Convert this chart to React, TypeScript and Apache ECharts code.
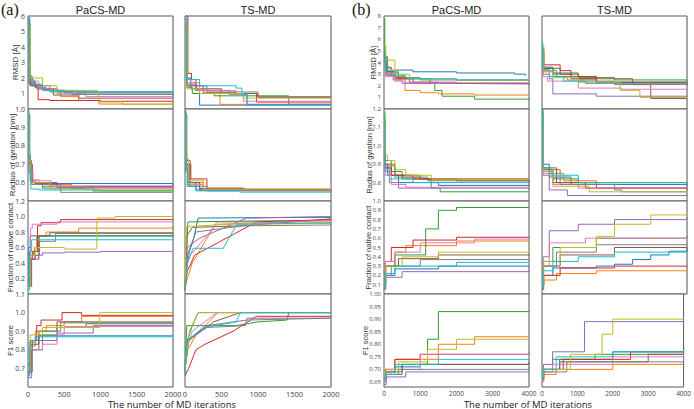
import { useEffect, useRef } from "react";
import * as echarts from "echarts";

const tab10 = ["#1f77b4", "#ff7f0e", "#2ca02c", "#d62728", "#9467bd", "#8c564b", "#e377c2", "#7f7f7f", "#bcbd22", "#17becf"];

const groupLabels = ["(a)", "(b)"];
const columnTitles = ["PaCS-MD", "TS-MD"];
const rowNames = ["RMSD [Å]", "Radius of gyration [nm]", "Fraction of native contact", "F1 score"];
const xTitle = "The number of MD iterations";

// (a) RMSD
const aRmsdPaCS = [
  [[0, 5.2], [15, 2.2], [40, 1.6], [150, 1.3], [400, 1.15], [800, 1.1], [2000, 1.08]],
  [[0, 5.6], [20, 1.9], [80, 1.5], [200, 1.2], [450, 0.8], [700, 0.55], [980, 0.32], [2000, 0.3]],
  [[0, 5.0], [15, 1.6], [50, 1.5], [120, 1.3], [300, 1.1], [600, 0.95], [2000, 0.9]],
  [[0, 4.8], [25, 1.8], [100, 1.4], [140, 0.6], [300, 0.55], [1000, 0.5], [2000, 0.47]],
  [[0, 5.8], [20, 1.7], [100, 1.4], [250, 1.2], [500, 1.05], [2000, 1.0]],
  [[0, 5.5], [30, 1.5], [200, 1.3], [350, 0.9], [700, 0.7], [2000, 0.66]],
  [[0, 5.3], [20, 1.8], [150, 1.3], [400, 1.0], [800, 0.8], [2000, 0.75]],
  [[0, 5.9], [25, 1.7], [100, 1.5], [300, 1.2], [700, 0.95], [2000, 0.86]],
  [[0, 5.4], [30, 2.0], [200, 1.5], [400, 1.2], [960, 1.1], [970, 0.45], [1300, 0.3], [2000, 0.19]],
  [[0, 6.0], [10, 2.1], [60, 1.6], [200, 1.2], [500, 1.1], [2000, 0.99]],
];
const aRmsdTS = [
  [[0, 5.5], [20, 2.0], [80, 1.3], [200, 0.25], [2000, 0.22]],
  [[0, 5.0], [30, 1.7], [150, 1.2], [480, 0.3], [2000, 0.28]],
  [[0, 5.2], [25, 1.4], [100, 1.0], [400, 0.85], [1420, 0.3], [2000, 0.28]],
  [[0, 6.0], [40, 2.3], [90, 1.9], [150, 1.3], [500, 1.0], [980, 0.45], [2000, 0.45]],
  [[0, 5.8], [30, 1.6], [150, 1.2], [600, 0.95], [850, 0.3], [2000, 0.3]],
  [[0, 5.5], [30, 1.5], [250, 1.05], [700, 1.0], [1000, 0.75], [2000, 0.75]],
  [[0, 5.7], [20, 1.7], [200, 1.2], [700, 1.0], [800, 0.5], [2000, 0.5]],
  [[0, 5.3], [25, 1.5], [300, 1.1], [1000, 0.8], [2000, 0.79]],
  [[0, 5.5], [30, 1.3], [200, 1.0], [800, 0.7], [2000, 0.64]],
  [[0, 6.0], [15, 1.9], [200, 1.5], [700, 1.35], [780, 0.9], [850, 0.25], [2000, 0.22]],
];
// (a) Radius of gyration
const aRgPaCS = [
  [[0, 0.98], [10, 0.75], [30, 0.61], [100, 0.595], [2000, 0.587]],
  [[0, 0.97], [15, 0.7], [40, 0.615], [150, 0.59], [600, 0.57], [2000, 0.565]],
  [[0, 0.99], [12, 0.68], [35, 0.6], [200, 0.57], [900, 0.555], [2000, 0.548]],
  [[0, 0.96], [20, 0.72], [50, 0.6], [300, 0.58], [2000, 0.575]],
  [[0, 0.95], [15, 0.65], [40, 0.6], [200, 0.58], [2000, 0.578]],
  [[0, 0.97], [25, 0.7], [60, 0.6], [400, 0.575], [2000, 0.572]],
  [[0, 0.94], [20, 0.66], [70, 0.61], [320, 0.58], [800, 0.572], [2000, 0.57]],
  [[0, 0.96], [18, 0.7], [45, 0.59], [450, 0.547], [2000, 0.545]],
  [[0, 0.98], [14, 0.72], [40, 0.6], [300, 0.565], [1000, 0.552], [2000, 0.542]],
  [[0, 0.99], [10, 0.67], [40, 0.565], [150, 0.56], [2000, 0.558]],
];
const aRgTS = [
  [[0, 0.99], [10, 0.7], [40, 0.6], [150, 0.56], [2000, 0.55]],
  [[0, 0.97], [15, 0.68], [60, 0.6], [250, 0.565], [2000, 0.558]],
  [[0, 0.98], [10, 0.66], [30, 0.58], [200, 0.56], [2000, 0.555]],
  [[0, 0.96], [20, 0.7], [80, 0.62], [300, 0.57], [800, 0.56], [2000, 0.556]],
  [[0, 0.95], [15, 0.67], [50, 0.6], [200, 0.56], [2000, 0.553]],
  [[0, 0.97], [25, 0.72], [70, 0.6], [200, 0.568], [820, 0.56], [2000, 0.558]],
  [[0, 0.94], [12, 0.69], [45, 0.59], [250, 0.56], [2000, 0.552]],
  [[0, 0.98], [18, 0.7], [60, 0.58], [300, 0.555], [2000, 0.55]],
  [[0, 0.99], [14, 0.73], [50, 0.61], [250, 0.565], [2000, 0.56]],
  [[0, 0.99], [10, 0.68], [35, 0.58], [150, 0.555], [750, 0.548], [2000, 0.545]],
];
// (a) Fraction of native contact
const aFncPaCS = [
  [[0, 0.1], [10, 0.6], [30, 0.75], [2000, 0.76]],
  [[0, 0.1], [30, 0.45], [90, 0.6], [120, 0.75], [250, 0.8], [700, 0.85], [2000, 0.87]],
  [[0, 0.1], [20, 0.5], [80, 0.55], [150, 0.75], [2000, 0.77]],
  [[0, 0.1], [20, 0.45], [60, 0.55], [130, 0.88], [180, 0.92], [450, 0.96], [2000, 0.96]],
  [[0, 0.1], [30, 0.45], [100, 0.5], [200, 0.53], [500, 0.54], [1000, 0.55], [2000, 0.55]],
  [[0, 0.1], [50, 0.45], [150, 0.75], [300, 0.79], [2000, 0.79]],
  [[0, 0.1], [15, 0.5], [35, 0.85], [60, 0.9], [400, 0.93], [2000, 0.93]],
  [[0, 0.1], [40, 0.5], [160, 0.68], [380, 0.78], [2000, 0.78]],
  [[0, 0.1], [30, 0.5], [100, 0.6], [500, 0.58], [950, 0.98], [1200, 1.0], [2000, 1.0]],
  [[0, 0.05], [20, 0.55], [50, 0.7], [2000, 0.7]],
];
const aFncTS = [
  [[0, 0.05], [20, 0.3], [60, 0.55], [115, 0.7], [180, 0.98], [2000, 0.99]],
  [[0, 0.05], [25, 0.18], [100, 0.4], [435, 0.93], [2000, 0.93]],
  [[0, 0.1], [20, 0.45], [40, 0.93], [700, 0.94], [2000, 0.95]],
  [[0, 0.05], [30, 0.3], [60, 0.35], [130, 0.5], [980, 0.93], [2000, 0.96]],
  [[0, 0.1], [30, 0.6], [200, 0.72], [845, 0.98], [2000, 1.0]],
  [[0, 0.1], [25, 0.75], [100, 0.86], [800, 0.88], [2000, 0.97]],
  [[0, 0.1], [40, 0.5], [110, 0.54], [435, 0.9], [2000, 0.95]],
  [[0, 0.05], [30, 0.5], [150, 0.8], [800, 0.88], [2000, 0.89]],
  [[0, 0.1], [20, 0.87], [600, 0.9], [2000, 0.91]],
  [[0, 0.05], [35, 0.4], [110, 0.59], [525, 0.59], [710, 0.9], [2000, 0.92]],
];
// (a) F1 score
const aF1PaCS = [
  [[0, 0.66], [20, 0.8], [60, 0.85], [150, 0.875], [2000, 0.875]],
  [[0, 0.7], [30, 0.82], [100, 0.9], [250, 0.93], [500, 0.95], [740, 0.98], [2000, 0.98]],
  [[0, 0.68], [40, 0.8], [150, 0.88], [400, 0.92], [800, 0.94], [2000, 0.945]],
  [[0, 0.72], [30, 0.85], [120, 0.93], [180, 0.96], [470, 1.0], [740, 0.985], [2000, 0.985]],
  [[0, 0.65], [50, 0.8], [200, 0.85], [400, 0.89], [900, 0.93], [2000, 0.93]],
  [[0, 0.7], [40, 0.83], [150, 0.9], [400, 0.95], [2000, 0.95]],
  [[0, 0.67], [30, 0.8], [200, 0.83], [400, 0.88], [500, 0.925], [2000, 0.925]],
  [[0, 0.68], [60, 0.85], [200, 0.9], [450, 0.945], [2000, 0.945]],
  [[0, 0.7], [30, 0.88], [200, 0.92], [990, 1.0], [2000, 1.0]],
  [[0, 0.66], [15, 0.84], [100, 0.87], [2000, 0.87]],
];
const aF1TS = [
  [[0, 0.68], [30, 0.85], [100, 0.93], [180, 1.0], [2000, 1.0]],
  [[0, 0.7], [40, 0.8], [150, 0.88], [450, 1.0], [2000, 1.0]],
  [[0, 0.72], [25, 0.93], [700, 0.93], [1000, 0.95], [1400, 0.96], [1420, 1.0], [2000, 1.0]],
  [[0, 0.66], [50, 0.7], [150, 0.8], [275, 0.83], [660, 0.9], [980, 0.98], [2000, 0.98]],
  [[0, 0.7], [30, 0.85], [300, 0.93], [850, 0.96], [2000, 0.97]],
  [[0, 0.7], [50, 0.85], [390, 0.95], [760, 1.0], [2000, 1.0]],
  [[0, 0.68], [20, 0.8], [100, 0.9], [440, 1.0], [2000, 1.0]],
  [[0, 0.69], [40, 0.85], [300, 0.92], [830, 0.93], [850, 0.97], [2000, 0.97]],
  [[0, 0.7], [60, 0.9], [180, 1.0], [2000, 1.0]],
  [[0, 0.67], [30, 0.85], [250, 0.92], [700, 0.95], [760, 1.0], [2000, 1.0]],
];
// (b) RMSD
const bRmsdPaCS = [
  [[0, 4.6], [30, 3.6], [200, 3.35], [800, 3.2], [2000, 3.1], [3600, 3.0], [3900, 2.85]],
  [[0, 5.0], [40, 3.5], [200, 2.8], [580, 1.6], [1000, 1.4], [1500, 1.3], [2500, 1.2], [4000, 1.18]],
  [[0, 7.8], [20, 4.5], [100, 3.2], [400, 2.6], [1270, 2.2], [1400, 1.6], [1600, 1.1], [2500, 0.85], [4000, 0.77]],
  [[0, 4.3], [60, 3.2], [300, 2.6], [800, 2.3], [1500, 2.2], [4000, 2.15]],
  [[0, 4.2], [40, 2.9], [250, 2.5], [500, 2.2], [2000, 2.15], [4000, 2.12]],
  [[0, 4.4], [50, 3.0], [300, 2.7], [700, 2.3], [2000, 2.2], [4000, 2.08]],
  [[0, 4.0], [40, 2.8], [300, 2.4], [600, 2.25], [4000, 2.2]],
  [[0, 4.5], [60, 3.1], [400, 2.7], [1000, 2.5], [4000, 2.45]],
  [[0, 5.5], [50, 4.2], [300, 3.0], [700, 2.6], [2000, 2.45], [4000, 2.35]],
  [[0, 4.8], [30, 3.3], [200, 2.9], [600, 2.6], [2000, 2.5], [4000, 2.4]],
];
const bRmsdTS = [
  [[0, 5.0], [30, 3.6], [300, 3.0], [800, 2.6], [1500, 2.3], [4000, 2.1]],
  [[0, 4.5], [40, 3.2], [300, 2.8], [700, 2.5], [1500, 2.3], [4000, 2.22]],
  [[0, 4.8], [40, 3.5], [300, 3.1], [1000, 2.7], [2000, 2.5], [4000, 2.42]],
  [[0, 5.2], [50, 3.8], [500, 3.3], [800, 2.8], [1500, 2.3], [4000, 2.08]],
  [[0, 4.6], [30, 3.0], [200, 2.6], [300, 1.3], [1500, 1.1], [4000, 1.0]],
  [[0, 4.9], [50, 3.5], [500, 3.0], [1000, 2.6], [2500, 2.1], [3000, 0.9], [4000, 0.85]],
  [[0, 4.4], [30, 2.8], [150, 2.4], [1000, 1.8], [2200, 1.7], [4000, 1.65]],
  [[0, 4.7], [40, 3.3], [400, 2.8], [1000, 2.4], [2000, 2.1], [4000, 2.05]],
  [[0, 5.5], [50, 3.3], [300, 2.7], [1000, 2.3], [2150, 1.6], [2700, 1.0], [4000, 0.92]],
  [[0, 5.8], [20, 3.4], [200, 2.8], [600, 2.4], [1200, 2.2], [4000, 2.1]],
];
// (b) Radius of gyration
const bRgPaCS = [
  [[0, 1.15], [20, 0.9], [100, 0.84], [400, 0.8], [1500, 0.785], [4000, 0.78]],
  [[0, 1.1], [30, 0.88], [200, 0.84], [500, 0.83], [1000, 0.82], [4000, 0.815]],
  [[0, 1.18], [20, 0.92], [200, 0.86], [500, 0.82], [1300, 0.77], [1550, 0.75], [4000, 0.747]],
  [[0, 1.12], [30, 0.88], [200, 0.84], [800, 0.82], [2000, 0.81], [4000, 0.805]],
  [[0, 1.1], [20, 0.86], [150, 0.8], [400, 0.77], [4000, 0.765]],
  [[0, 1.14], [25, 0.9], [300, 0.84], [1000, 0.82], [4000, 0.81]],
  [[0, 1.08], [25, 0.84], [200, 0.79], [600, 0.775], [4000, 0.772]],
  [[0, 1.16], [20, 0.89], [300, 0.83], [1200, 0.81], [4000, 0.805]],
  [[0, 1.19], [30, 0.95], [100, 0.92], [300, 0.87], [600, 0.84], [1300, 0.82], [4000, 0.815]],
  [[0, 1.17], [20, 0.87], [150, 0.82], [800, 0.8], [4000, 0.79]],
];
const bRgTS = [
  [[0, 1.18], [20, 0.9], [200, 0.83], [800, 0.79], [4000, 0.78]],
  [[0, 1.15], [30, 0.88], [200, 0.85], [600, 0.81], [1500, 0.8], [4000, 0.79]],
  [[0, 1.2], [25, 0.87], [300, 0.82], [1000, 0.8], [4000, 0.79]],
  [[0, 1.1], [20, 0.86], [300, 0.8], [1200, 0.77], [4000, 0.765]],
  [[0, 1.1], [30, 0.84], [200, 0.76], [700, 0.73], [4000, 0.724]],
  [[0, 1.14], [40, 0.88], [400, 0.8], [1500, 0.77], [4000, 0.76]],
  [[0, 1.12], [20, 0.85], [300, 0.79], [1000, 0.77], [4000, 0.765]],
  [[0, 1.15], [25, 0.87], [500, 0.79], [2000, 0.76], [2200, 0.75], [4000, 0.745]],
  [[0, 1.16], [30, 0.86], [300, 0.78], [1300, 0.75], [4000, 0.74]],
  [[0, 1.19], [30, 0.88], [250, 0.84], [1000, 0.8], [4000, 0.785]],
];
// (b) Fraction of native contact
const bFncPaCS = [
  [[0, 0.05], [30, 0.2], [300, 0.27], [1500, 0.3], [4000, 0.3]],
  [[0, 0.1], [40, 0.3], [300, 0.45], [600, 0.52], [2000, 0.57], [4000, 0.57]],
  [[0, 0.1], [50, 0.3], [300, 0.42], [1150, 0.7], [1500, 0.9], [2000, 0.93], [4000, 0.93]],
  [[0, 0.08], [30, 0.35], [200, 0.5], [800, 0.58], [2000, 0.61], [4000, 0.61]],
  [[0, 0.05], [50, 0.18], [500, 0.24], [4000, 0.26]],
  [[0, 0.1], [40, 0.3], [400, 0.38], [1500, 0.42], [4000, 0.43]],
  [[0, 0.1], [30, 0.35], [300, 0.45], [1000, 0.55], [2500, 0.59], [4000, 0.59]],
  [[0, 0.05], [30, 0.2], [200, 0.3], [1000, 0.37], [4000, 0.38]],
  [[0, 0.1], [50, 0.3], [500, 0.4], [1500, 0.45], [4000, 0.46]],
  [[0, 0.05], [30, 0.22], [300, 0.3], [2000, 0.34], [4000, 0.34]],
];
const bFncTS = [
  [[0, 0.05], [40, 0.2], [300, 0.28], [1500, 0.3], [2000, 0.32], [2500, 0.37], [3000, 0.42], [3500, 0.46], [4000, 0.5]],
  [[0, 0.05], [50, 0.15], [400, 0.22], [1500, 0.25], [4000, 0.25]],
  [[0, 0.1], [40, 0.35], [300, 0.5], [1500, 0.6], [4000, 0.62]],
  [[0, 0.1], [50, 0.2], [500, 0.28], [2000, 0.3], [4000, 0.3]],
  [[0, 0.1], [30, 0.4], [200, 0.68], [1000, 0.75], [2000, 0.8], [4000, 0.82]],
  [[0, 0.1], [40, 0.3], [500, 0.42], [2000, 0.5], [4000, 0.5]],
  [[0, 0.1], [30, 0.3], [200, 0.55], [1200, 0.6], [4000, 0.6]],
  [[0, 0.05], [40, 0.3], [400, 0.45], [1500, 0.53], [4000, 0.54]],
  [[0, 0.1], [50, 0.35], [500, 0.5], [1500, 0.62], [2000, 0.75], [3000, 0.85], [4000, 0.88]],
  [[0, 0.05], [30, 0.25], [300, 0.35], [1000, 0.4], [2000, 0.45], [4000, 0.45]],
];
// (b) F1 score
const bF1PaCS = [
  [[0, 0.66], [50, 0.69], [300, 0.71], [1000, 0.72], [4000, 0.72]],
  [[0, 0.67], [40, 0.7], [300, 0.74], [1500, 0.8], [2500, 0.83], [4000, 0.83]],
  [[0, 0.65], [50, 0.68], [500, 0.72], [1200, 0.82], [1500, 0.93], [4000, 0.93]],
  [[0, 0.67], [40, 0.7], [300, 0.74], [1000, 0.76], [4000, 0.765]],
  [[0, 0.64], [60, 0.67], [600, 0.69], [4000, 0.69]],
  [[0, 0.66], [50, 0.69], [500, 0.72], [4000, 0.73]],
  [[0, 0.65], [30, 0.68], [200, 0.7], [1000, 0.76], [4000, 0.76]],
  [[0, 0.66], [40, 0.68], [400, 0.7], [4000, 0.71]],
  [[0, 0.67], [50, 0.7], [400, 0.73], [1200, 0.78], [2000, 0.82], [4000, 0.82]],
  [[0, 0.66], [30, 0.68], [300, 0.72], [1500, 0.74], [4000, 0.74]],
];
const bF1TS = [
  [[0, 0.66], [40, 0.7], [500, 0.74], [2000, 0.77], [4000, 0.8]],
  [[0, 0.65], [50, 0.68], [400, 0.7], [2000, 0.72], [4000, 0.72]],
  [[0, 0.67], [40, 0.7], [300, 0.74], [1500, 0.76], [4000, 0.78]],
  [[0, 0.66], [50, 0.7], [600, 0.74], [2500, 0.77], [4000, 0.79]],
  [[0, 0.66], [40, 0.72], [300, 0.77], [1200, 0.89], [4000, 0.89]],
  [[0, 0.67], [50, 0.7], [500, 0.73], [3000, 0.76], [4000, 0.77]],
  [[0, 0.65], [30, 0.69], [300, 0.72], [2000, 0.75], [4000, 0.76]],
  [[0, 0.66], [40, 0.69], [700, 0.73], [4000, 0.75]],
  [[0, 0.67], [50, 0.7], [800, 0.76], [1700, 0.84], [2000, 0.9], [4000, 0.9]],
  [[0, 0.66], [30, 0.7], [400, 0.75], [2000, 0.77], [4000, 0.78]],
];

// axis ranges per group and row
const xRanges = [{ max: 2000, interval: 500 }, { max: 4000, interval: 1000 }];
const yRangesA = [
  { min: 0, max: 6, interval: 1, dec: 0 },
  { min: 0.5, max: 1.0, interval: 0.1, dec: 1 },
  { min: 0, max: 1.2, interval: 0.2, dec: 1 },
  { min: 0.6, max: 1.1, interval: 0.1, dec: 1 },
];
const yRangesB = [
  { min: 0, max: 8, interval: 1, dec: 0 },
  { min: 0.7, max: 1.2, interval: 0.1, dec: 1 },
  { min: 0, max: 1.0, interval: 0.1, dec: 1 },
  { min: 0.63, max: 1.0, interval: 0, dec: 2, custom: [0.65, 0.7, 0.75, 0.8, 0.85, 0.9, 0.95, 1.0] },
];

const panelData = [
  [[aRmsdPaCS, aRmsdTS], [aRgPaCS, aRgTS], [aFncPaCS, aFncTS], [aF1PaCS, aF1TS]],
  [[bRmsdPaCS, bRmsdTS], [bRgPaCS, bRgTS], [bFncPaCS, bFncTS], [bF1PaCS, bF1TS]],
];
// TS-MD panels in (a) for native contact / F1 are drawn as straight connections
const linearPanels = ["a-1-2", "a-1-3"];

const colLeft = [[28, 185], [384, 542]];
const colWidth = [[145, 146], [145, 145]];
const rowTop = [16, 109, 201, 294];
const rowHeight = [93, 92, 93, 93];
const yNameX = [[15, 12, 10, 10], [373, 369, 368, 365]];
const tickFontSize = [7, 6];
const xTitleCenter = [172, 528];

const tickFont = "'Open Sans', 'DejaVu Sans', sans-serif";
const titleFont = "'Liberation Sans', Arial, sans-serif";

export default function App() {
  const ref = useRef<HTMLDivElement>(null);
  useEffect(() => {
    if (!ref.current) return;
    const chart = echarts.init(ref.current, undefined, { renderer: "svg" });
    const grid: any[] = [];
    const xAxis: any[] = [];
    const yAxis: any[] = [];
    const series: any[] = [];
    const graphic: any[] = [];
    let idx = 0;
    for (let g = 0; g < 2; g++) {
      const yRanges = g === 0 ? yRangesA : yRangesB;
      for (let r = 0; r < 4; r++) {
        for (let c = 0; c < 2; c++) {
          const yr: any = yRanges[r];
          grid.push({
            left: colLeft[g][c],
            top: rowTop[r],
            width: colWidth[g][c],
            height: rowHeight[r],
            show: true,
            borderColor: "#5a5a5a",
            borderWidth: 1,
            backgroundColor: "#fff",
            z: 1,
          });
          xAxis.push({
            type: "value",
            gridIndex: idx,
            min: 0,
            max: xRanges[g].max,
            interval: xRanges[g].interval,
            axisLine: { show: false },
            axisTick: { show: false },
            axisLabel: {
              show: r === 3,
              fontSize: tickFontSize[g] + 0.5,
              color: "#444",
              fontFamily: tickFont,
              margin: 3,
              formatter: (v: number) => String(v),
            },
            splitLine: { show: true, lineStyle: { color: "#e6e6e6", width: 0.8 } },
          });
          const yAx: any = {
            type: "value",
            gridIndex: idx,
            min: yr.min,
            max: yr.max,
            axisLine: { show: false },
            axisTick: { show: false },
            axisLabel: {
              show: c === 0,
              showMinLabel: !!yr.custom,
              fontSize: tickFontSize[g],
              color: "#444",
              fontFamily: tickFont,
              margin: 3,
              formatter: (v: number) => v.toFixed(yr.dec),
            },
            splitLine: { show: true, lineStyle: { color: "#e6e6e6", width: 0.8 } },
          };
          if (yr.custom) {
            yAx.axisLabel.customValues = yr.custom;
            yAx.axisTick.customValues = yr.custom;
          } else {
            yAx.interval = yr.interval;
          }
          yAxis.push(yAx);
          const data = panelData[g][r][c];
          const linear = linearPanels.includes(`${g === 0 ? "a" : "b"}-${c}-${r}`);
          data.forEach((s, k) => {
            series.push({
              type: "line",
              xAxisIndex: idx,
              yAxisIndex: idx,
              data: s,
              step: linear ? false : "end",
              showSymbol: false,
              symbol: "none",
              clip: true,
              lineStyle: { width: 1, color: tab10[k] },
              itemStyle: { color: tab10[k] },
              z: 2,
            });
          });
          idx++;
        }
        graphic.push({
          type: "text",
          x: yNameX[g][r],
          y: rowTop[r] + rowHeight[r] / 2,
          rotation: Math.PI / 2,
          style: {
            text: rowNames[r],
            fontSize: g === 0 ? 8 : 7.5,
            fontFamily: titleFont,
            fill: "#333",
            textAlign: "center",
            textVerticalAlign: "middle",
          },
        });
      }
      for (let c = 0; c < 2; c++) {
        graphic.push({
          type: "text",
          x: colLeft[g][c] + colWidth[g][c] / 2,
          y: 10,
          style: {
            text: columnTitles[c],
            fontSize: 11,
            fontFamily: titleFont,
            fill: "#222",
            textAlign: "center",
            textVerticalAlign: "middle",
          },
        });
      }
      graphic.push({
        type: "text",
        x: g === 0 ? 1 : 352,
        y: 9,
        style: {
          text: groupLabels[g],
          fontSize: 16,
          fontFamily: "'Liberation Serif', 'DejaVu Serif', serif",
          fill: "#111",
          textAlign: "left",
          textVerticalAlign: "middle",
        },
      });
      graphic.push({
        type: "text",
        x: xTitleCenter[g],
        y: 404,
        style: {
          text: xTitle,
          fontSize: 9.5,
          fontFamily: tickFont,
          fill: "#222",
          textAlign: "center",
          textVerticalAlign: "middle",
        },
      });
    }
    chart.setOption({
      animation: false,
      backgroundColor: "#fff",
      grid,
      xAxis,
      yAxis,
      series,
      graphic,
    });
    return () => chart.dispose();
  }, []);
  return (
    <div
      ref={ref}
      style={{ position: "fixed", left: 0, top: 0, width: 694, height: 409, background: "#fff" }}
    />
  );
}
